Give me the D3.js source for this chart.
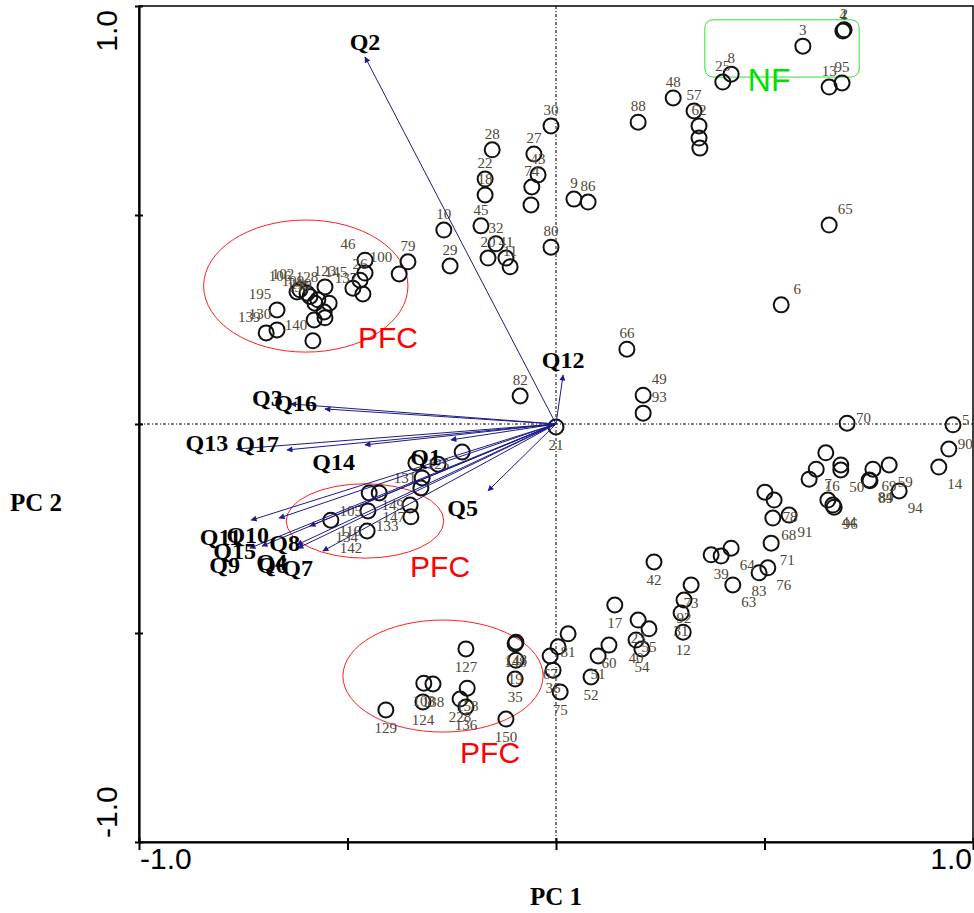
<!DOCTYPE html>
<html>
<head>
<meta charset="utf-8">
<script src="https://cdn.jsdelivr.net/npm/d3@7"></script>
<style>
body { margin: 0; background: #fff; }
svg { display: block; }
</style>
</head>
<body>
<svg id="chart" width="974" height="913"></svg>
<script>
// ---- DATA ----
// sample scores: [id, PC1, PC2, label placement]
const samples = [
  ["4",0.688,0.940,"t"],["2",0.691,0.943,"t"],["3",0.592,0.904,"t"],["8",0.420,0.837,"t"],
  ["25",0.400,0.818,"t"],["13",0.655,0.806,"t"],["95",0.686,0.816,"t"],["48",0.281,0.780,"t"],
  ["57",0.331,0.749,"t"],["62",0.343,0.713,"t"],["",0.343,0.684,"t"],["",0.345,0.660,"t"],
  ["88",0.197,0.722,"t"],["9",0.043,0.538,"t"],["86",0.077,0.531,"t"],["65",0.655,0.476,"tr"],
  ["6",0.540,0.285,"tr"],["66",0.170,0.179,"t"],["49",0.209,0.069,"tr"],["93",0.209,0.026,"tr"],
  ["70",0.698,0.002,"r"],["5",0.952,-0.002,"r"],
  ["30",-0.012,0.713,"t"],["28",-0.153,0.656,"t"],["27",-0.053,0.646,"t"],["43",-0.043,0.596,"t"],
  ["74",-0.058,0.567,"t"],["",-0.060,0.524,"t"],["22",-0.170,0.586,"t"],["18",-0.170,0.548,"t"],
  ["45",-0.180,0.474,"t"],["32",-0.144,0.431,"t"],["20",-0.163,0.397,"t"],["41",-0.120,0.397,"t"],
  ["11",-0.110,0.376,"t"],["10",-0.269,0.464,"t"],["29",-0.254,0.378,"t"],["80",-0.012,0.423,"t"],
  ["82",-0.086,0.067,"t"],
  ["79",-0.355,0.388,"t"],["",-0.376,0.359,"t"],["46",-0.458,0.392,"tl"],["100",-0.458,0.361,"tr"],
  ["26",-0.470,0.344,"t"],["145",-0.487,0.325,"tl"],["137",-0.463,0.311,"tl"],["123",-0.554,0.328,"t"],
  ["128",-0.597,0.313,"t"],["156",-0.578,0.289,"tl"],["",-0.544,0.289,"t"],["",-0.556,0.268,"t"],
  ["",-0.554,0.254,"t"],["",-0.580,0.249,"t"],["102",-0.614,0.321,"tl"],["106",-0.621,0.316,"tl"],
  ["109",-0.590,0.305,"tl"],["119",-0.571,0.297,"tl"],["195",-0.669,0.273,"tl"],["130",-0.669,0.225,"tl"],
  ["139",-0.695,0.218,"tl"],["140",-0.583,0.199,"tl"],
  ["",-0.225,-0.067,"t"],["",-0.336,-0.093,"t"],["125",-0.283,-0.096,"c"],["131",-0.321,-0.129,"l"],
  ["",-0.324,-0.153,"t"],["",-0.448,-0.165,"t"],["",-0.424,-0.165,"t"],["149",-0.350,-0.194,"l"],
  ["147",-0.348,-0.222,"l"],["105",-0.451,-0.208,"l"],["134",-0.540,-0.230,"br"],["116",-0.453,-0.256,"l"],
  ["133",-0.453,-0.256,"r"],["142",-0.453,-0.256,"bl"],
  ["90",0.942,-0.060,"r"],["14",0.918,-0.103,"br"],["59",0.799,-0.098,"br"],["94",0.823,-0.160,"br"],
  ["69",0.760,-0.108,"br"],["84",0.751,-0.134,"br"],["89",0.753,-0.136,"br"],["",0.647,-0.069,"t"],
  ["16",0.624,-0.108,"br"],["",0.607,-0.132,"t"],["",0.683,-0.098,"t"],["50",0.683,-0.110,"br"],
  ["7",0.652,-0.182,"t"],["44",0.664,-0.194,"br"],["96",0.667,-0.199,"br"],["",0.501,-0.163,"t"],
  ["78",0.523,-0.182,"br"],["91",0.559,-0.218,"br"],["68",0.520,-0.225,"br"],["71",0.516,-0.285,"br"],
  ["",0.372,-0.313,"t"],["39",0.396,-0.316,"b"],["64",0.420,-0.297,"br"],["63",0.424,-0.385,"br"],
  ["83",0.487,-0.356,"b"],["76",0.508,-0.344,"br"],["42",0.235,-0.330,"b"],["73",0.324,-0.385,"b"],
  ["92",0.307,-0.421,"b"],["31",0.300,-0.452,"b"],["12",0.305,-0.498,"b"],["17",0.141,-0.433,"b"],
  ["23",0.197,-0.469,"b"],["55",0.223,-0.490,"b"],["40",0.192,-0.517,"b"],["54",0.206,-0.538,"b"],
  ["60",0.127,-0.529,"b"],["51",0.101,-0.555,"b"],["52",0.084,-0.605,"b"],["81",0.029,-0.502,"b"],
  ["",0.005,-0.533,"t"],["67",-0.014,-0.555,"b"],["36",-0.007,-0.589,"b"],["75",0.010,-0.641,"b"],
  ["21",0.000,-0.007,"b"],
  ["143",-0.096,-0.522,"b"],["148",-0.098,-0.526,"b"],["",-0.096,-0.565,"t"],["35",-0.098,-0.610,"b"],
  ["19",-0.098,-0.610,"c"],["150",-0.120,-0.706,"b"],["127",-0.216,-0.538,"b"],["108",-0.317,-0.620,"b"],
  ["138",-0.295,-0.622,"b"],["124",-0.319,-0.665,"b"],["158",-0.213,-0.632,"b"],["228",-0.230,-0.658,"b"],
  ["136",-0.216,-0.677,"b"],["129",-0.408,-0.684,"b"]
];

// variable loadings: [name, PC1, PC2, label placement]
const loadings = [
  ["Q2",-0.458,0.878,"t"],["Q12",0.017,0.117,"t"],["Q3",-0.636,0.048,"l"],["Q16",-0.554,0.036,"l"],
  ["Q13",-0.767,-0.060,"l"],["Q17",-0.645,-0.062,"l"],["Q14",-0.458,-0.050,"bl"],["Q1",-0.252,-0.038,"bl"],
  ["Q5",-0.163,-0.160,"bl"],["Q11",-0.731,-0.230,"bl"],["Q10",-0.664,-0.225,"bl"],["Q8",-0.590,-0.244,"bl"],
  ["Q4",-0.621,-0.289,"bl"],["Q15",-0.705,-0.292,"ml"],["Q9",-0.734,-0.297,"bl"],["Q6",-0.619,-0.297,"bl"],
  ["Q7",-0.559,-0.304,"bl"]
];

// group annotations (ellipses: centre, radii in PC units)
const groupEllipses = [
  {cx:-0.600, cy:0.330, rx:0.245, ry:0.158},
  {cx:-0.458, cy:-0.232, rx:0.189, ry:0.089},
  {cx:-0.271, cy:-0.603, rx:0.240, ry:0.134}
];
const groupLabels = [
  {text:"PFC", x:-0.475, y:0.182, color:"#ff0000"},
  {text:"PFC", x:-0.350, y:-0.366, color:"#ff0000"},
  {text:"PFC", x:-0.230, y:-0.811, color:"#ff0000"},
  {text:"NF",  x:0.460, y:0.797, color:"#00e000"}
];
const nfBox = {x0:0.357, x1:0.727, y0:0.830, y1:0.967};

const axisTicks = [-1, -0.5, 0, 0.5, 1];
const axisLabels = ["-1.0", "1.0"];
const xTitle = "PC 1", yTitle = "PC 2";

// ---- CHART ----
const svg = d3.select("#chart");
const x = d3.scaleLinear().domain([-1, 1]).range([139, 973]);
const y = d3.scaleLinear().domain([-1, 1]).range([842, 6]);

// frame
svg.append("rect").attr("x", x(-1)).attr("y", y(1))
  .attr("width", x(1) - x(-1)).attr("height", y(-1) - y(1))
  .attr("fill", "none").attr("stroke", "#000").attr("stroke-width", 1.5);

// dotted zero lines
svg.append("line").attr("x1", x(-1)).attr("x2", x(1)).attr("y1", y(0)).attr("y2", y(0))
  .attr("stroke", "#000").attr("stroke-width", 1).attr("stroke-dasharray", "3,2,1,2");
svg.append("line").attr("x1", x(0)).attr("x2", x(0)).attr("y1", y(1)).attr("y2", y(-1))
  .attr("stroke", "#000").attr("stroke-width", 1).attr("stroke-dasharray", "3,2,1,2");

// axes
const gy = svg.append("g").attr("transform", `translate(${x(-1)},0)`)
  .call(d3.axisLeft(y).tickValues(axisTicks).tickFormat("").tickSizeInner(4).tickSizeOuter(0));
gy.select(".domain").attr("stroke-width", 2.2);
gy.selectAll(".tick line").attr("x1", 4).attr("x2", -4).attr("stroke-width", 2);

const gx = svg.append("g").attr("transform", `translate(0,${y(-1)})`)
  .call(d3.axisBottom(x).tickValues(axisTicks).tickFormat("").tickSizeInner(8).tickSizeOuter(0));
gx.select(".domain").attr("stroke-width", 2.2);
gx.selectAll(".tick line").attr("y1", -4).attr("y2", 8).attr("stroke-width", 2);

// tick labels
const tickFont = "'Liberation Sans', Arial, sans-serif";
svg.append("text").text(axisLabels[1])
  .attr("transform", `translate(${x(-1) - 22},${y(1) + 4}) rotate(-90)`)
  .attr("text-anchor", "end").attr("font-family", tickFont).attr("font-size", 30);
svg.append("text").text(axisLabels[0])
  .attr("transform", `translate(${x(-1) - 22},${y(-1) - 4}) rotate(-90)`)
  .attr("text-anchor", "start").attr("font-family", tickFont).attr("font-size", 30);
svg.append("text").text(axisLabels[0]).attr("x", x(-1) + 1).attr("y", 869)
  .attr("text-anchor", "start").attr("font-family", tickFont).attr("font-size", 30);
svg.append("text").text(axisLabels[1]).attr("x", x(1) - 1).attr("y", 869)
  .attr("text-anchor", "end").attr("font-family", tickFont).attr("font-size", 30);

// axis titles
const serif = "'Liberation Serif', 'Times New Roman', serif";
svg.append("text").text(xTitle).attr("x", x(0)).attr("y", 905)
  .attr("text-anchor", "middle").attr("font-family", serif).attr("font-weight", "bold").attr("font-size", 25);
svg.append("text").text(yTitle).attr("x", 10).attr("y", 511)
  .attr("text-anchor", "start").attr("font-family", serif).attr("font-weight", "bold").attr("font-size", 25);

// group annotations
svg.selectAll("ellipse.grp").data(groupEllipses).join("ellipse")
  .attr("cx", d => x(d.cx)).attr("cy", d => y(d.cy))
  .attr("rx", d => x(d.rx) - x(0)).attr("ry", d => y(0) - y(d.ry))
  .attr("fill", "none").attr("stroke", "#ff2020").attr("stroke-width", 1);
svg.append("rect").attr("x", x(nfBox.x0)).attr("y", y(nfBox.y1))
  .attr("width", x(nfBox.x1) - x(nfBox.x0)).attr("height", y(nfBox.y0) - y(nfBox.y1))
  .attr("rx", 8).attr("fill", "none").attr("stroke", "#33dd33").attr("stroke-width", 1);

// sample circles (unique positions only)
const circlePts = samples.filter((d, i) =>
  samples.findIndex(e => e[1] === d[1] && e[2] === d[2]) === i);
svg.selectAll("circle.s").data(circlePts).join("circle")
  .attr("cx", d => x(d[1])).attr("cy", d => y(d[2])).attr("r", 7.5)
  .attr("fill", "none").attr("stroke", "#111").attr("stroke-width", 2);

// sample labels
const place = {
  t: [0, -11, "middle"], b: [0, 23, "middle"], r: [9, 0, "start"], l: [-6, 5, "end"],
  tr: [16, -11, "middle"], tl: [-17, -11, "middle"], br: [16, 22, "middle"],
  bl: [-16, 22, "middle"], c: [0, 5, "middle"]
};
svg.selectAll("text.s").data(samples.filter(d => d[0] !== "")).join("text")
  .attr("x", d => x(d[1]) + place[d[3]][0]).attr("y", d => y(d[2]) + place[d[3]][1])
  .attr("text-anchor", d => place[d[3]][2])
  .attr("font-family", serif).attr("font-size", 15).attr("fill", "#4f4636")
  .text(d => d[0]);

// group label texts
svg.selectAll("text.g").data(groupLabels).join("text")
  .attr("x", d => x(d.x)).attr("y", d => y(d.y))
  .attr("font-family", tickFont).attr("font-size", d => d.text === "NF" ? 32 : 30)
  .attr("fill", d => d.color).text(d => d.text);

// loading arrows
const defs = svg.append("defs");
defs.append("marker").attr("id", "ah").attr("viewBox", "0 0 10 10")
  .attr("refX", 9).attr("refY", 5).attr("markerWidth", 9).attr("markerHeight", 6)
  .attr("markerUnits", "userSpaceOnUse").attr("orient", "auto")
  .append("path").attr("d", "M0,0 L10,5 L0,10 Z").attr("fill", "#1c1c8a");

svg.selectAll("line.q").data(loadings).join("line")
  .attr("x1", x(0)).attr("y1", y(0))
  .attr("x2", d => x(d[1])).attr("y2", d => y(d[2]))
  .attr("stroke", "#1c1c8a").attr("stroke-width", 1)
  .attr("marker-end", "url(#ah)");

const qPlace = { t: [0, -7, "middle"], l: [-8, 2, "end"], bl: [-10, 25, "end"], ml: [-6, 13, "end"] };
svg.selectAll("text.q").data(loadings).join("text")
  .attr("x", d => x(d[1]) + qPlace[d[3]][0])
  .attr("y", d => y(d[2]) + qPlace[d[3]][1])
  .attr("text-anchor", d => qPlace[d[3]][2])
  .attr("font-family", serif).attr("font-weight", "bold").attr("font-size", 24)
  .attr("fill", "#000").text(d => d[0]);
</script>
</body>
</html>
